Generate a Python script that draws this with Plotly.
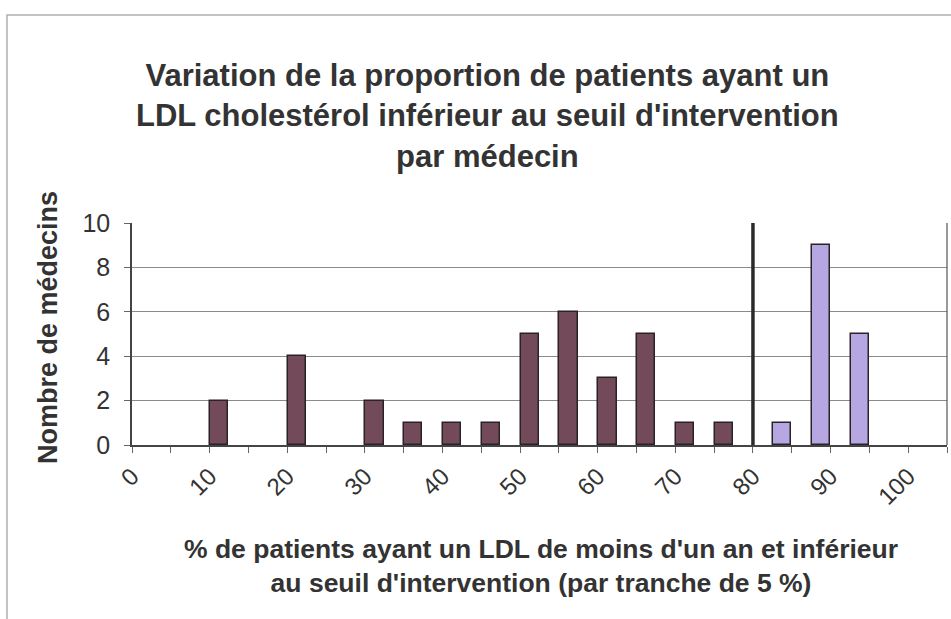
import plotly.graph_objects as go

# Bins of 5 % (bin start values) and number of doctors per bin
bin_starts = list(range(0, 105, 5))
counts = [0, 0, 2, 0, 4, 0, 2, 1, 1, 1, 5, 6, 3, 5, 1, 1, 1, 9, 5, 0, 0]
threshold = 80  # intervention threshold (%)
x_tick_labels = list(range(0, 101, 10))
y_tick_labels = list(range(0, 11, 2))

BIN = 5
centers = [s + BIN / 2 for s in bin_starts]
# empty bins are left undrawn
below = [c if (s < threshold and c > 0) else None for s, c in zip(bin_starts, counts)]
above = [c if (s >= threshold and c > 0) else None for s, c in zip(bin_starts, counts)]

FONT = "Liberation Sans, Arial, sans-serif"
TXT = "#333333"

fig = go.Figure()
fig.add_trace(go.Bar(x=centers, y=below, width=BIN * 0.47,
                     marker=dict(color="#724a5a", line=dict(color="#2a2226", width=1.5)),
                     showlegend=False, hoverinfo="x+y"))
fig.add_trace(go.Bar(x=centers, y=above, width=BIN * 0.47,
                     marker=dict(color="#b6a6e2", line=dict(color="#2a2226", width=1.5)),
                     showlegend=False, hoverinfo="x+y"))

# threshold line
fig.add_shape(type="line", xref="x", yref="y", x0=threshold, x1=threshold,
              y0=-0.25, y1=10.3, line=dict(color="#2b2b2b", width=3.5), layer="above")
# right border of the plot area
fig.add_shape(type="line", xref="paper", yref="paper", x0=1, x1=1, y0=0, y1=1,
              line=dict(color="#555", width=1.2))
# chart area frame
fig.add_shape(type="path", xref="paper", yref="paper",
              path="M -0.1534,-1.0 L -0.1534,1.937 L 1.05,1.937",
              line=dict(color="#b0b0b0", width=1.5))

fig.update_layout(
    width=951, height=619,
    margin=dict(l=132, r=4, t=223, b=174),
    paper_bgcolor="white", plot_bgcolor="white",
    bargap=0,
    font=dict(family=FONT, color=TXT),
    xaxis=dict(
        range=[0, 105],
        tickmode="array",
        tickvals=x_tick_labels,
        ticktext=[str(v) for v in x_tick_labels],
        tickangle=-45,
        tickfont=dict(size=24, color=TXT),
        ticks="outside", ticklen=6, tickcolor="#666",
        minor=dict(dtick=BIN, tick0=0, ticks="outside", ticklen=6, tickcolor="#666", showgrid=False),
        showline=True, linecolor="#444", linewidth=1.5,
        showgrid=False, zeroline=False,
    ),
    yaxis=dict(
        range=[0, 10],
        tickmode="array", tickvals=y_tick_labels,
        tickfont=dict(size=25, color=TXT),
        ticklabelstandoff=9,
        ticks="outside", ticklen=6, tickcolor="#666",
        showline=True, linecolor="#444", linewidth=1.5,
        showgrid=True, gridcolor="#8a8a8a", gridwidth=1,
        zeroline=False,
    ),
    annotations=[
        dict(
            text="<b>Variation de la proportion de patients ayant un<br>"
                 "LDL cholestérol inférieur au seuil d'intervention<br>par médecin</b>",
            xref="paper", yref="paper", x=(487 - 132) / 815, y=(445 - 116) / 222,
            xanchor="center", yanchor="middle", showarrow=False,
            font=dict(size=31, color=TXT, family=FONT),
        ),
        dict(
            text="<b>% de patients ayant un LDL de moins d'un an et inférieur<br>"
                 "au seuil d'intervention (par tranche de 5 %)</b>",
            xref="paper", yref="paper", x=(541 - 132) / 815, y=(445 - 566) / 222,
            xanchor="center", yanchor="middle", showarrow=False,
            font=dict(size=26.5, color=TXT, family=FONT),
        ),
        dict(
            text="<b>Nombre de médecins</b>", textangle=-90,
            xref="paper", yref="paper", x=(48 - 132) / 815, y=(445 - 328) / 222,
            xanchor="center", yanchor="middle", showarrow=False,
            font=dict(size=27, color=TXT, family=FONT),
        ),
    ],
)

fig.write_html("out.html")
